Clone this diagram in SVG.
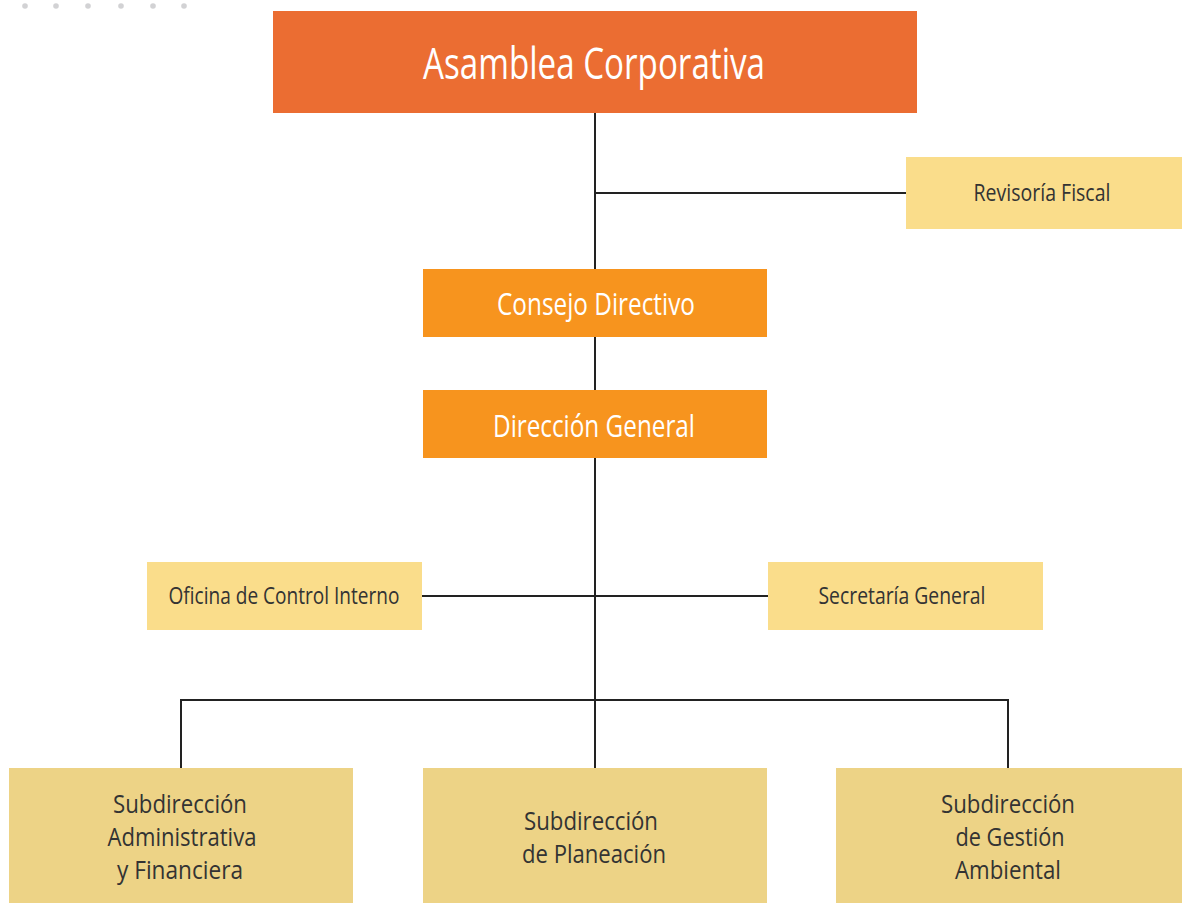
<svg xmlns="http://www.w3.org/2000/svg" width="1182" height="903" viewBox="0 0 1182 903">
<style>
.bg{fill:#ffffff}
.dot{fill:#d2d2d4}
.top{fill:#EB6D32}
.mid{fill:#F7941E}
.side{fill:#FADD8B}
.sub{fill:#EDD386}
text{font-family:"Open Sans","Liberation Sans",sans-serif;text-anchor:middle}
.tw{fill:#ffffff}
.td{fill:#333333;font-size:24px}
.ts{fill:#333333;font-size:26px}
.conn line{stroke:#222222;stroke-width:2;fill:none}
</style>
<rect class="bg" x="0" y="0" width="1182" height="903"/>
<g id="dots">
<circle class="dot" cx="25" cy="6" r="2.8"/>
<circle class="dot" cx="56" cy="6" r="2.8"/>
<circle class="dot" cx="88" cy="6" r="2.8"/>
<circle class="dot" cx="121" cy="6" r="2.8"/>
<circle class="dot" cx="153" cy="6" r="2.8"/>
<circle class="dot" cx="184" cy="6" r="2.8"/>
</g>
<g class="conn" id="connectors">
<line x1="595" y1="113" x2="595" y2="270"/>
<line x1="595" y1="193" x2="906" y2="193"/>
<line x1="595" y1="337" x2="595" y2="390"/>
<line x1="595" y1="458" x2="595" y2="768"/>
<line x1="422" y1="596" x2="768" y2="596"/>
<line x1="180" y1="700" x2="1009" y2="700"/>
<line x1="181" y1="699" x2="181" y2="768"/>
<line x1="1008" y1="699" x2="1008" y2="768"/>
</g>
<g id="asamblea">
<rect class="top" x="273" y="11" width="644" height="102"/>
<text class="tw" x="594" y="79" font-size="44" textLength="342" lengthAdjust="spacingAndGlyphs">Asamblea Corporativa</text>
</g>
<g id="revisoria">
<rect class="side" x="906" y="157" width="276" height="72"/>
<text class="td" x="1042" y="201" textLength="137" lengthAdjust="spacingAndGlyphs">Revisoría Fiscal</text>
</g>
<g id="consejo">
<rect class="mid" x="423" y="269" width="344" height="68"/>
<text class="tw" x="596" y="315" font-size="31" textLength="198" lengthAdjust="spacingAndGlyphs">Consejo Directivo</text>
</g>
<g id="direccion">
<rect class="mid" x="423" y="390" width="344" height="68"/>
<text class="tw" x="594" y="437" font-size="31" textLength="202" lengthAdjust="spacingAndGlyphs">Dirección General</text>
</g>
<g id="oficina">
<rect class="side" x="147" y="562" width="275" height="68"/>
<text class="td" x="284" y="604" textLength="231" lengthAdjust="spacingAndGlyphs">Oficina de Control Interno</text>
</g>
<g id="secretaria">
<rect class="side" x="768" y="562" width="275" height="68"/>
<text class="td" x="902" y="604" textLength="167" lengthAdjust="spacingAndGlyphs">Secretaría General</text>
</g>
<g id="sub-admin">
<rect class="sub" x="9" y="768" width="344" height="140"/>
<text class="ts" x="180" y="813" textLength="134" lengthAdjust="spacingAndGlyphs">Subdirección</text>
<text class="ts" x="182" y="846" textLength="149" lengthAdjust="spacingAndGlyphs">Administrativa</text>
<text class="ts" x="180" y="879" textLength="126" lengthAdjust="spacingAndGlyphs">y Financiera</text>
</g>
<g id="sub-planeacion">
<rect class="sub" x="423" y="768" width="344" height="140"/>
<text class="ts" x="591" y="830" textLength="134" lengthAdjust="spacingAndGlyphs">Subdirección</text>
<text class="ts" x="594" y="863" textLength="144" lengthAdjust="spacingAndGlyphs">de Planeación</text>
</g>
<g id="sub-gestion">
<rect class="sub" x="836" y="768" width="346" height="140"/>
<text class="ts" x="1008" y="813" textLength="134" lengthAdjust="spacingAndGlyphs">Subdirección</text>
<text class="ts" x="1010" y="846" textLength="109" lengthAdjust="spacingAndGlyphs">de Gestión</text>
<text class="ts" x="1008" y="879" textLength="106" lengthAdjust="spacingAndGlyphs">Ambiental</text>
</g>
</svg>
